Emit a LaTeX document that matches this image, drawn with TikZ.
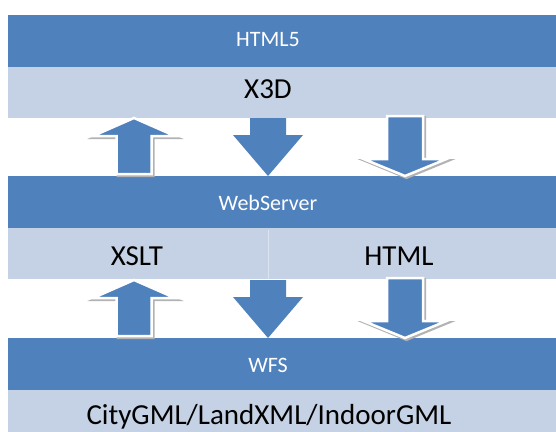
\documentclass[tikz,border=0pt]{standalone}
\usepackage{fontspec}
\setmainfont{Carlito}
\definecolor{barblue}{RGB}{79,129,189}
\definecolor{bandblue}{RGB}{197,210,229}
\begin{document}
\begin{tikzpicture}[x=1pt,y=-1pt,
    bartext/.style={text=white,anchor=base,font=\fontsize{22}{22}\selectfont},
    bandtext/.style={text=black,anchor=base,font=\fontsize{29}{29}\selectfont},
    outlined/.style={fill=barblue,draw=white,line width=2.5pt,
        preaction={draw=black!30,line width=3pt,transform canvas={shift={(1.5pt,-1.5pt)}}}},
    blockup/.pic={\draw[outlined] (0,0) -- (41,18) -- (17.5,18) -- (17.5,56) -- (-17.5,56) -- (-17.5,18) -- (-41,18) -- cycle;},
    blockdown/.pic={\fill[barblue] (-18,0) -- (18,0) -- (18,17) -- (35,17) -- (0,58) -- (-35,17) -- (-18,17) -- cycle;},
    blockdownout/.pic={\draw[outlined] (-18,0) -- (18,0) -- (18,43) -- (41.5,43) -- (0,60) -- (-41.5,43) -- (-18,43) -- cycle;}]
    \useasboundingbox (0,0) rectangle (556,431);
    \clip (0,0) rectangle (556,431);
    \foreach \y in {15,176,338} {
        \fill[barblue] (8,\y) rectangle ++(548,52);
        \fill[bandblue] (8,\y+52) rectangle ++(548,51);
    }
    \draw[white,opacity=0.4,line width=1pt] (268,230) -- (268,282);
    \foreach \d in {0,162} {
        \pic at (134,118+\d) {blockup};
        \pic at (268,118+\d) {blockdown};
        \pic at (405,116+\d) {blockdownout};
    }
    \node[bartext] (html5) at (268,46) {HTML5};
    \node[bandtext] (x3d) at (268,98) {X3D};
    \node[bartext] (websrv) at (268,210) {WebServer};
    \node[bandtext] (xslt) at (137,265) {XSLT};
    \node[bandtext] (html) at (399,265) {HTML};
    \node[bartext] (wfs) at (268,372) {WFS};
    \node[bandtext] (gml) at (269,424) {CityGML/LandXML/IndoorGML};
\end{tikzpicture}
\end{document}
